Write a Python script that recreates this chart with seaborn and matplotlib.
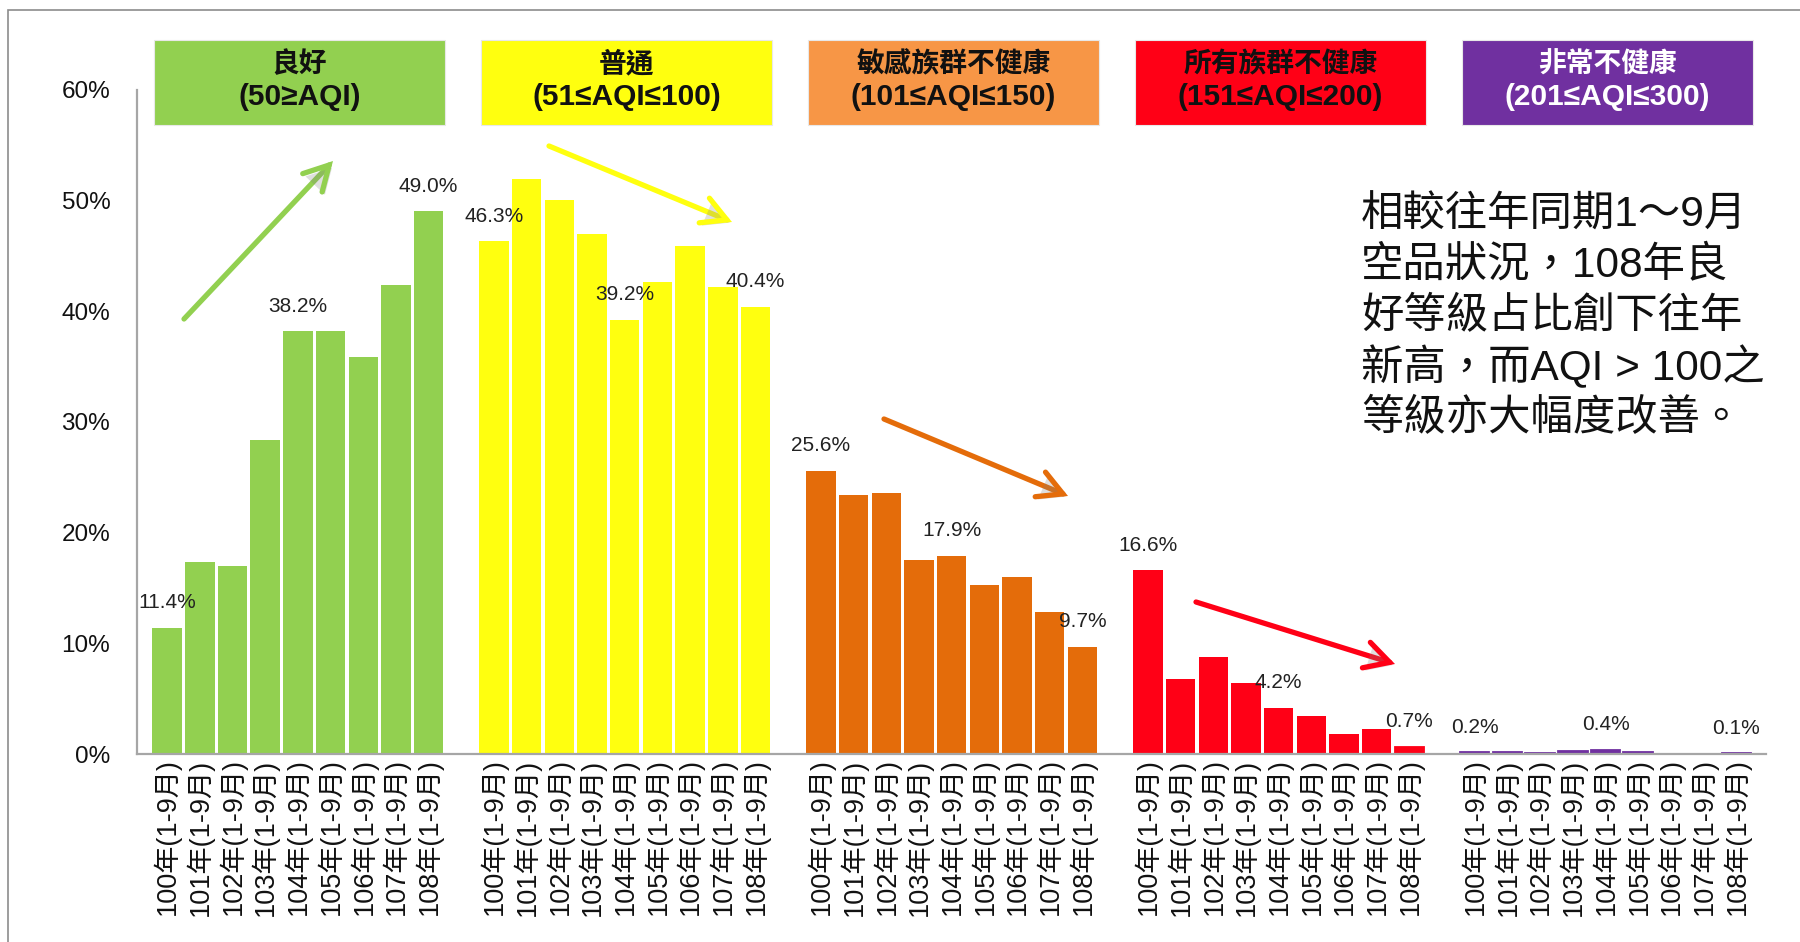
import numpy as np
import pandas as pd
import matplotlib
matplotlib.use('Agg')
import matplotlib.pyplot as plt
import matplotlib.patheffects as pe
from matplotlib.patches import Rectangle, FancyArrowPatch
import seaborn as sns

# ---- data ----
levels = ['良好', '普通', '敏感族群不健康', '所有族群不健康', '非常不健康']
ranges = ['(50≥AQI)', '(51≤AQI≤100)', '(101≤AQI≤150)', '(151≤AQI≤200)', '(201≤AQI≤300)']
years = ['100年(1-9月)', '101年(1-9月)', '102年(1-9月)', '103年(1-9月)', '104年(1-9月)',
         '105年(1-9月)', '106年(1-9月)', '107年(1-9月)', '108年(1-9月)']

good = [11.4, 17.4, 17.0, 28.4, 38.2, 38.2, 35.9, 42.4, 49.0]
moderate = [46.3, 51.9, 50.0, 47.0, 39.2, 42.6, 45.9, 42.2, 40.4]
sensitive = [25.6, 23.4, 23.6, 17.5, 17.9, 15.3, 16.0, 12.8, 9.7]
unhealthy = [16.6, 6.8, 8.8, 6.4, 4.2, 3.5, 1.8, 2.3, 0.7]
very_unhealthy = [0.2, 0.2, 0.1, 0.3, 0.4, 0.2, 0.0, 0.0, 0.1]

labeled = [0, 4, 8]   # 100年, 104年, 108年 get value labels

bar_colors = ['#92D050', '#FFFF0F', '#E46C0A', '#FF0016', '#7030A0']
box_colors = ['#92D050', '#FFFF0F', '#F79646', '#FF0016', '#7030A0']
box_text_colors = ['#111111', '#111111', '#111111', '#111111', 'white']

note_lines = ['相較往年同期1～9月',
              '空品狀況，108年良',
              '好等級占比創下往年',
              '新高，而AQI > 100之',
              '等級亦大幅度改善。']

series = [good, moderate, sensitive, unhealthy, very_unhealthy]

# build long table, one slot gap between groups
rows = []
for g, (lvl, vals) in enumerate(zip(levels, series)):
    for i, (yr, v) in enumerate(zip(years, vals)):
        rows.append({'slot': g * 10 + i, 'level': lvl, 'year': yr, 'value': v, 'idx': i})
df = pd.DataFrame(rows)

# ---- style ----
sns.set_style('white')
plt.rcParams['font.family'] = ['Liberation Sans', 'Noto Sans CJK TC']
plt.rcParams['axes.unicode_minus'] = False

W, H = 1800, 942
fig = plt.figure(figsize=(18, 9.42), dpi=100)
ax = fig.add_axes([136.7 / W, (H - 754.3) / H, (1765.7 - 136.7) / W, 664.8 / H])

sns.barplot(data=df, x='slot', y='value', hue='level', order=list(range(49)),
            hue_order=levels, palette=dict(zip(levels, bar_colors)), saturation=1,
            width=0.9, dodge=False, legend=False, linewidth=0, ax=ax)

# same-colour outline only on the tiny bars so they stay visible
for p in ax.patches:
    if 0 < p.get_height() < 1:
        p.set_edgecolor(p.get_facecolor())
        p.set_linewidth(1.3)

ax.set_xlim(-0.93, 48.9)
ax.set_ylim(0, 60)

# axes styling
gray = '#A6A6A6'
for s in ['top', 'right']:
    ax.spines[s].set_visible(False)
for s in ['left', 'bottom']:
    ax.spines[s].set_color(gray)
    ax.spines[s].set_linewidth(1.6)

ax.set_yticks(range(0, 61, 10))
ax.set_yticklabels([f'{v}%' for v in range(0, 61, 10)], fontsize=17.5, color='#111111')
ax.tick_params(axis='y', direction='out', length=7, width=1.4, color=gray, pad=12)

ax.set_xticks(df['slot'])
ax.set_xticklabels(df['year'], rotation=90, fontsize=19.5, color='#111111')
ax.tick_params(axis='x', which='major', length=0, pad=3)
ax.set_xticks([-0.93, 9, 19, 29, 39, 48.9], minor=True)
ax.tick_params(axis='x', which='minor', direction='out', length=6, width=1.4, color=gray)
ax.set_xlabel('')
ax.set_ylabel('')
ax.grid(False)

# value labels
for _, r in df[df['idx'].isin(labeled)].iterrows():
    ax.annotate(f"{r['value']:.1f}%", (r['slot'], r['value']), xytext=(0, 18),
                textcoords='offset points', ha='center', va='center',
                fontsize=15, color='#222222')

# header boxes (y in data units above the axis top)
for g in range(5):
    x0 = g * 10 - 0.4
    ax.add_patch(Rectangle((x0, 56.8), 8.9, 7.67, facecolor=box_colors[g],
                           edgecolor='#e8e8e8', linewidth=0.8, clip_on=False, zorder=3))
    xc = x0 + 8.9 / 2
    ax.text(xc, 62.2, levels[g], ha='center', va='center', fontsize=20,
            fontweight='bold', color=box_text_colors[g], zorder=4, clip_on=False)
    ax.text(xc, 59.35, ranges[g], ha='center', va='center', fontsize=21.5,
            fontweight='bold', color=box_text_colors[g], zorder=4, clip_on=False)

# trend arrows (figure pixels -> figure fraction)
arrows = [((184, 319), (333, 161), '#92D050'),
          ((549, 146), (732, 222), '#FFFF0F'),
          ((884, 419), (1068, 496), '#E46C0A'),
          ((1196, 602), (1395, 664), '#FF0016')]
for (x1, y1), (x2, y2), c in arrows:
    arr = FancyArrowPatch((x1 / W, 1 - y1 / H), (x2 / W, 1 - y2 / H),
                          transform=fig.transFigure,
                          arrowstyle='->,head_length=0.55,head_width=0.3',
                          mutation_scale=32, color=c, linewidth=3.8,
                          shrinkA=0, shrinkB=0, capstyle='round', joinstyle='miter')
    arr.set_path_effects([pe.SimplePatchShadow(offset=(2, -2), alpha=0.25, shadow_rgbFace='gray'),
                          pe.Normal()])
    fig.add_artist(arr)

# note text block
for k, line in enumerate(note_lines):
    fig.text(1361 / W, 1 - (215.5 + k * 50.8) / H, line, ha='left', va='center',
             fontsize=30.5, color='#111111')

# outer frame (top and left edges visible)
fig.add_artist(Rectangle((8 / W, -0.1), 1.0, (H - 10) / H + 0.1, transform=fig.transFigure,
                         fill=False, edgecolor='#8c8c8c', linewidth=1.2))

plt.savefig('out.png', dpi=100)
plt.close()
